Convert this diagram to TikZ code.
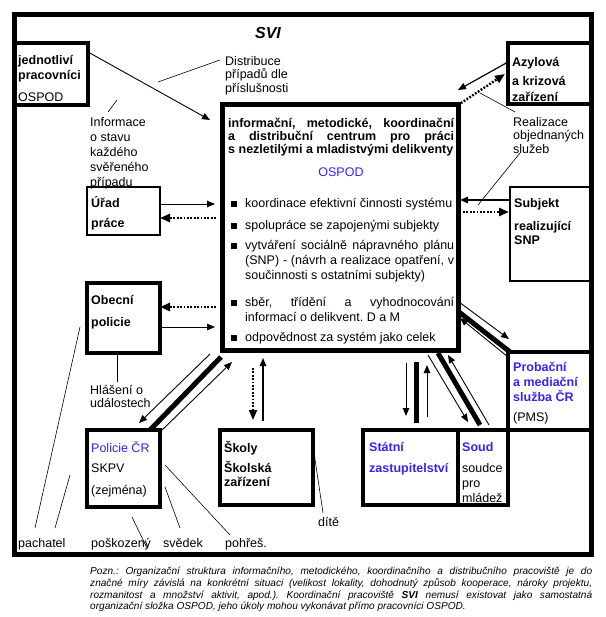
\documentclass[tikz,border=0pt]{standalone}
\usepackage{fontspec}
\setmainfont{Liberation Sans}
\usepackage{tikz}
\usetikzlibrary{arrows.meta,calc}

\definecolor{svblue}{RGB}{51,34,255}
\newcommand\lh{\rule{0pt}{12pt}}
\newcommand\bsq{\noindent\llap{\rule{6.5pt}{6.5pt}\hspace{8pt}}}
\tolerance=10000 \hbadness=10000
\frenchspacing

\begin{document}
\begin{tikzpicture}[x=1pt, y=-1pt, >={Triangle[length=8pt,width=6.5pt]},
    box/.style={draw, line width=4pt, inner sep=0pt, outer sep=0pt, anchor=north west},
    thinbox/.style={box, line width=1.8pt},
    txt/.style={anchor=north west, inner sep=0pt, align=left, font=\fontsize{12.5}{15}\selectfont},
    head/.style={txt, font=\fontsize{12.5}{15}\selectfont\bfseries},
    note/.style={txt, font=\fontsize{12.5}{13.5}\selectfont},
    link/.style={line width=0.9pt},
    ptr/.style={line width=0.6pt},
    dots/.style={line width=2.4pt, dash pattern=on 1.8pt off 1.6pt},
    bigtip/.style={-{Triangle[length=10pt,width=8pt]}},
    bar/.style={line width=5pt}]
\useasboundingbox (0,0) rectangle (605,617);

% frames
\node[box, line width=5pt, minimum width=576.5pt, minimum height=539pt] (svi) at (14.5,15) {};
\node[box, minimum width=74pt, minimum height=62pt] (jedn) at (14,43) {};
\node[box, minimum width=83pt, minimum height=61pt] (azyl) at (508,43) {};
\node[box, line width=5pt, minimum width=236pt, minimum height=245pt] (koord) at (222,105) {};
\node[thinbox, minimum width=73pt, minimum height=48pt] (urad) at (87,187) {};
\node[box, minimum width=73pt, minimum height=70pt] (obec) at (87,283) {};
\node[thinbox, minimum width=82pt, minimum height=94pt] (subj) at (510,187) {};
\node[box, minimum width=73pt, minimum height=77pt] (polic) at (87,430) {};
\node[box, minimum width=93pt, minimum height=75pt] (skoly) at (220,430) {};
\node[box, minimum width=95pt, minimum height=75pt] (statni) at (363,430) {};
\node[box, minimum width=50pt, minimum height=75pt] (soud) at (458,430) {};
\node[box, minimum width=83pt, minimum height=78pt] (prob) at (508,352) {};

% texts
\node[font=\fontsize{16}{16}\selectfont\bfseries\itshape] (sviT) at (268,33) {SVI};
\node[head] (jednT) at (18,52) {\lh jednotliví\\pracovníci\\[7pt]{\mdseries OSPOD}};
\node[head] (azylT) at (512,54) {\lh Azylová\\[4pt]a krizová\\[1pt]zařízení};
\node[note] (distr) at (225,53) {\lh Distribuce\\případů dle\\příslušnosti};
\node[txt] (inform) at (90,114) {\lh Informace\\o stavu\\každého\\svěřeného\\případu};
\node[note] (realiz) at (513,114) {\lh Realizace\\objednaných\\služeb};
\node[head] (uradT) at (91,195) {\lh Úřad\\[5pt]práce};
\node[head] (obecT) at (91,292) {\lh Obecní\\[7pt]policie};
\node[note] (hlas) at (90,382) {\lh Hlášení o\\událostech};
\node[head] (subjT) at (514,195) {\lh Subjekt\\[8pt]realizující\\[-1pt]SNP};
\node[txt] (policT) at (91,440) {\lh\textcolor{svblue}{Policie ČR}\\[5pt]SKPV\\[7pt](zejména)};
\node[head] (skolyT) at (224,440) {\lh Školy\\[5pt]Školská\\[-1pt]zařízení};
\node[head, text=svblue] (statniT) at (369,439) {\lh Státní\\[6pt]zastupitelství};
\node[txt] (soudT) at (462,439) {\lh\textbf{\textcolor{svblue}{Soud}}\\[6pt]soudce\\pro\\mládež};
\node[head, text=svblue] (probT) at (513,359) {\lh Probační\\a mediační\\služba ČR\\[5pt]{\mdseries\color{black}(PMS)}};

\node[txt, text width=226pt, align=justify, font=\fontsize{12.5}{13}\selectfont\bfseries] (koordT) at (228,115)
  {\lh informační, metodické, koordinační\linebreak a~distribuční centrum pro práci\linebreak s~nezletilými a mladistvými delikventy};
\node[text=svblue, font=\fontsize{12.5}{15}\selectfont] (ospod) at (341,172) {OSPOD};
\foreach \y/\itm [count=\i] in {195/{koordinace efektivní činnosti systému},
    217/{spolupráce se zapojenými subjekty},
    237/{vytváření sociálně nápravného plánu\linebreak (SNP) - (návrh a realizace opatření, v\linebreak součinnosti s ostatními subjekty)},
    294/{sběr, třídění a vyhodnocování\linebreak informací o delikvent. D a M},
    329/{odpovědnost za systém jako celek}}
  \node[txt, text width=209pt, align=justify] (item\i) at (245,\y) {\bsq\lh\itm};

\node[txt] (dite) at (318,514) {\lh dítě};
\node[txt] (pach) at (18,535) {\lh pachatel};
\node[txt] (poskoz) at (91,535) {\lh poškozený};
\node[txt] (sved) at (163,535) {\lh svědek};
\node[txt] (pohres) at (225,535) {\lh pohřeš.};

\node[txt, text width=502pt, align=justify, font=\fontsize{10.1}{11.7}\selectfont\itshape] (pozn) at (90,562.5)
  {\lh Pozn.: Organizační struktura informačního, metodického, koordinačního a distribučního pracoviště je do\linebreak
   značné míry závislá na konkrétní situaci (velikost lokality, dohodnutý způsob kooperace, nároky projektu,\linebreak
   rozmanitost a množství aktivit, apod.). Koordinační pracoviště \textbf{SVI} nemusí existovat jako samostatná\linebreak
   organizační složka OSPOD, jeho úkoly mohou vykonávat přímo pracovníci OSPOD.};

% connectors
\coordinate (distrP) at (158,82);
\coordinate (informP) at (117,100);
\draw[link,->] ($(jedn.north east)+(0,9)$) -- ($(koord.north west)+(-12,15)$);
\draw[ptr] ($(distr.north west)+(-5,7)$) -- (distrP);
\draw[ptr] ($(inform.north west)+(18,-2)$) -- (informP);

\draw[line width=1.2pt,->] ($(azyl.north west)+(0,19)$) -- ($(koord.north east)+(0,-15)$);
\draw[dots,bigtip] (koord.north east) -- ($(azyl.north west)+(-3,31)$);
\draw[ptr] ($(realiz.north west)+(2,-2)$) -- ($(koord.north east)+(22,-12)$);
\draw[ptr] ($(realiz.north west)+(7,39)$) -- ($(subj.north west)+(-32,18)$);

\draw[link,->] ($(urad.north east)+(0,17)$) -- ($(koord.north west)+(-7,99)$);
\draw[dots,bigtip] ($(koord.north west)+(-6,113)$) -- ($(urad.north east)+(0,31)$);
\draw[dots,bigtip] ($(koord.north west)+(-6,202)$) -- ($(obec.north east)+(0,24)$);
\draw[link,->] ($(obec.north east)+(0,44)$) -- ($(koord.north west)+(-7,222)$);
\draw[ptr] ($(obec.south west)+(30,0)$) -- ($(hlas.north west)+(27,0)$);

\draw[line width=1.2pt,->] ($(subj.north west)+(0,13)$) -- ($(koord.north east)+(2,95)$);
\draw[dots,bigtip] ($(koord.north east)+(5,107)$) -- ($(subj.north west)+(-1,25)$);

\draw[link,->] ($(koord.south west)+(-12,4)$) -- ($(polic.north east)+(-21,-7)$);
\draw[bar] ($(koord.south west)+(-1,7)$) -- ($(polic.north east)+(-10,0)$);
\draw[link,->] ($(polic.north east)+(0,2)$) -- ($(koord.south west)+(10,12)$);

\draw[dots,line width=1.8pt,bigtip] ($(koord.south west)+(31,18)$) -- ($(skoly.north west)+(33,-10)$);
\draw[line width=1.3pt,->] ($(skoly.north west)+(43,-9)$) -- ($(koord.south west)+(41,8)$);

\draw[link,->] ($(koord.south west)+(184,13)$) -- ($(statni.north west)+(43,-14)$);
\draw[bar] ($(koord.south west)+(194,12)$) -- ($(statni.north west)+(53,-7)$);
\draw[link,->] ($(statni.north west)+(64,-13)$) -- ($(koord.south west)+(205,15)$);

\draw[link,->] ($(koord.south west)+(206,5)$) -- ($(soud.north west)+(10,-8)$);
\draw[bar] ($(koord.south west)+(216,3)$) -- ($(soud.north west)+(22,-5)$);
\draw[link,->] ($(soud.north west)+(31,-5)$) -- ($(koord.south west)+(226,5)$);

\draw[link,->] ($(koord.south east)+(1,-48)$) -- ($(prob.north west)+(1,-13)$);
\draw[bar] ($(koord.south east)+(1,-38)$) -- ($(prob.north west)+(2,0)$);
\draw[link,->] ($(prob.north west)+(0,5)$) -- ($(koord.south east)+(2,-32)$);

\draw[ptr] ($(pach.north west)+(17,-7)$) -- ($(obec.south west)+(-7,-26)$);
\draw[ptr] ($(pach.north west)+(37,-7)$) -- ($(polic.north west)+(-17,45)$);
\draw[ptr] ($(poskoz.north west)+(56,13)$) -- ($(polic.south west)+(45,10)$);
\draw[ptr] ($(sved.north west)+(17,-7)$) -- ($(polic.south east)+(5,-20)$);
\draw[ptr] ($(pohres.north west)+(5,0)$) -- ($(polic.south east)+(5,-42)$);
\draw[ptr] ($(dite.north west)+(5,-1)$) -- ($(skoly.east)+(1,-15)$);
\end{tikzpicture}
\end{document}
